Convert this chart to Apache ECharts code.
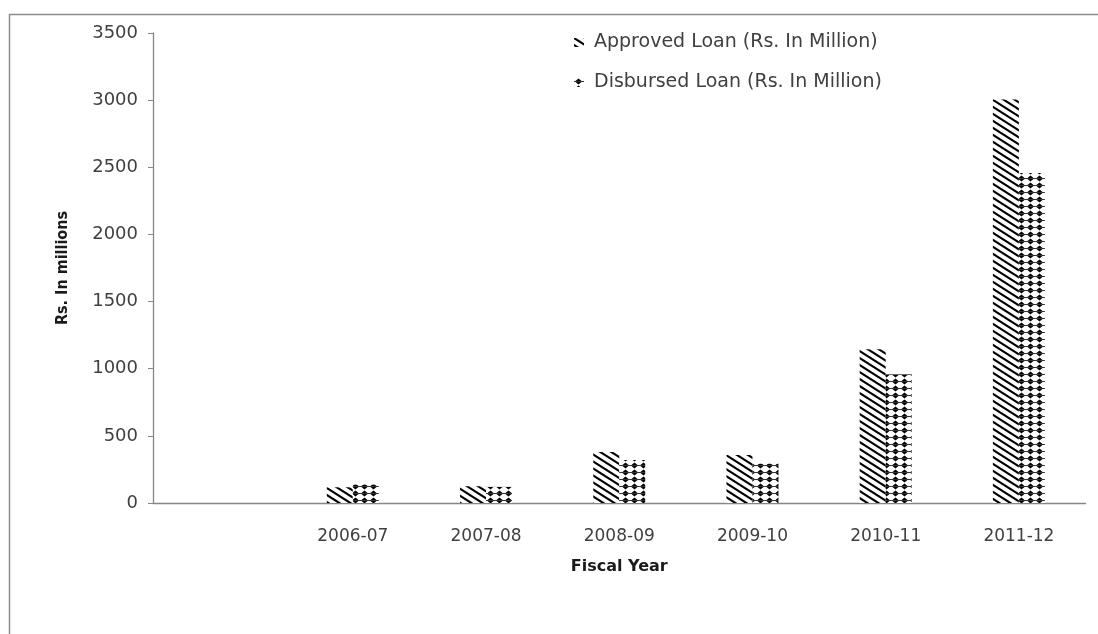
<!DOCTYPE html>
<html>
<head>
<meta charset="utf-8">
<script src="https://cdn.jsdelivr.net/npm/echarts@6/dist/echarts.min.js"></script>
<style>
  html, body { margin: 0; padding: 0; background: #fff; }
  #chart { width: 1098px; height: 634px; }
</style>
</head>
<body>
<div id="chart"></div>
<script>
// Loan figures by fiscal year (Rs. in million); the first slot is an empty category
const fiscalYears = ['', '2006-07', '2007-08', '2008-09', '2009-10', '2010-11', '2011-12'];
const approvedLoan = [null, 117, 125, 380, 357, 1145, 3005];
const disbursedLoan = [null, 137, 120, 320, 293, 958, 2458];
const yTicks = { min: 0, max: 3500, step: 500 };

// Diagonal hatch fill ("\" lines)
function hatchPattern() {
  const w = 11, h = 7;
  const c = document.createElement('canvas');
  c.width = w; c.height = h;
  const ctx = c.getContext('2d');
  ctx.fillStyle = '#fff';
  ctx.fillRect(0, 0, w, h);
  ctx.strokeStyle = '#000';
  ctx.lineWidth = 2.1;
  const k = h / w;
  [-h, 0, h].forEach(function (off) {
    ctx.beginPath();
    ctx.moveTo(-3, off - 3 * k);
    ctx.lineTo(w + 3, off + (w + 3) * k);
    ctx.stroke();
  });
  return c;
}

// Diamond-dot fill
function dotPattern() {
  const w = 9, h = 7;
  const c = document.createElement('canvas');
  c.width = w; c.height = h;
  const ctx = c.getContext('2d');
  ctx.fillStyle = '#fff';
  ctx.fillRect(0, 0, w, h);
  const cx = 4.5, cy = 3.5;
  ctx.fillStyle = '#000';
  ctx.beginPath();
  ctx.moveTo(cx - 3.6, cy);
  ctx.lineTo(cx, cy - 3.0);
  ctx.lineTo(cx + 3.6, cy);
  ctx.lineTo(cx, cy + 3.0);
  ctx.closePath();
  ctx.fill();
  ctx.strokeStyle = '#333';
  ctx.lineWidth = 1;
  ctx.beginPath();
  ctx.moveTo(cx - 4.5, cy);
  ctx.lineTo(cx + 4.5, cy);
  ctx.stroke();
  return c;
}

const chart = echarts.init(document.getElementById('chart'), null, { renderer: 'canvas' });

const labelFont = 'DejaVu Sans';

chart.setOption({
  animation: false,
  backgroundColor: '#fff',
  graphic: [{
    type: 'rect',
    shape: { x: 9.5, y: 14.5, width: 1300, height: 900 },
    style: { fill: 'none', stroke: '#8c8c8c', lineWidth: 1.5 },
    silent: true,
    z: -1
  }],
  grid: { left: 153, right: 12.5, top: 33, bottom: 131 },
  legend: {
    orient: 'vertical',
    left: 569,
    top: 28,
    itemGap: 21,
    itemWidth: 10,
    itemHeight: 9,
    icon: 'rect',
    textStyle: { fontFamily: labelFont, fontSize: 19, color: '#404040', padding: [0, 0, 0, 5] },
    data: ['Approved Loan (Rs. In Million)', 'Disbursed Loan (Rs. In Million)']
  },
  xAxis: {
    type: 'category',
    data: fiscalYears,
    name: 'Fiscal Year',
    nameLocation: 'middle',
    nameGap: 56,
    nameTextStyle: { fontFamily: 'DejaVu Sans', fontWeight: 'bold', fontSize: 16, color: '#1a1a1a' },
    axisLine: { lineStyle: { color: '#868686', width: 1.3 } },
    axisTick: { show: false },
    axisLabel: { fontFamily: labelFont, fontSize: 17, color: '#404040', margin: 25, interval: 0 },
    splitLine: { show: false }
  },
  yAxis: {
    type: 'value',
    min: yTicks.min,
    max: yTicks.max,
    interval: yTicks.step,
    name: 'Rs. In millions',
    nameLocation: 'middle',
    nameRotate: 90,
    nameGap: 82,
    nameTextStyle: { fontFamily: 'Liberation Sans Narrow, DejaVu Sans Condensed, sans-serif', fontWeight: 'bold', fontSize: 16, color: '#1a1a1a' },
    axisLine: { show: true, lineStyle: { color: '#868686', width: 1.3 } },
    axisTick: { show: true, inside: false, length: 5, lineStyle: { color: '#868686' } },
    axisLabel: {
      fontFamily: labelFont, fontSize: 18, color: '#404040', margin: 15,
      formatter: function (v) { return String(v); }
    },
    splitLine: { show: false }
  },
  series: [
    {
      name: 'Approved Loan (Rs. In Million)',
      type: 'bar',
      data: approvedLoan,
      barWidth: 26,
      barGap: '0%',
      itemStyle: { color: { image: hatchPattern(), repeat: 'repeat' } }
    },
    {
      name: 'Disbursed Loan (Rs. In Million)',
      type: 'bar',
      data: disbursedLoan,
      barWidth: 26,
      barGap: '0%',
      itemStyle: { color: { image: dotPattern(), repeat: 'repeat' } }
    }
  ]
});
</script>
</body>
</html>
